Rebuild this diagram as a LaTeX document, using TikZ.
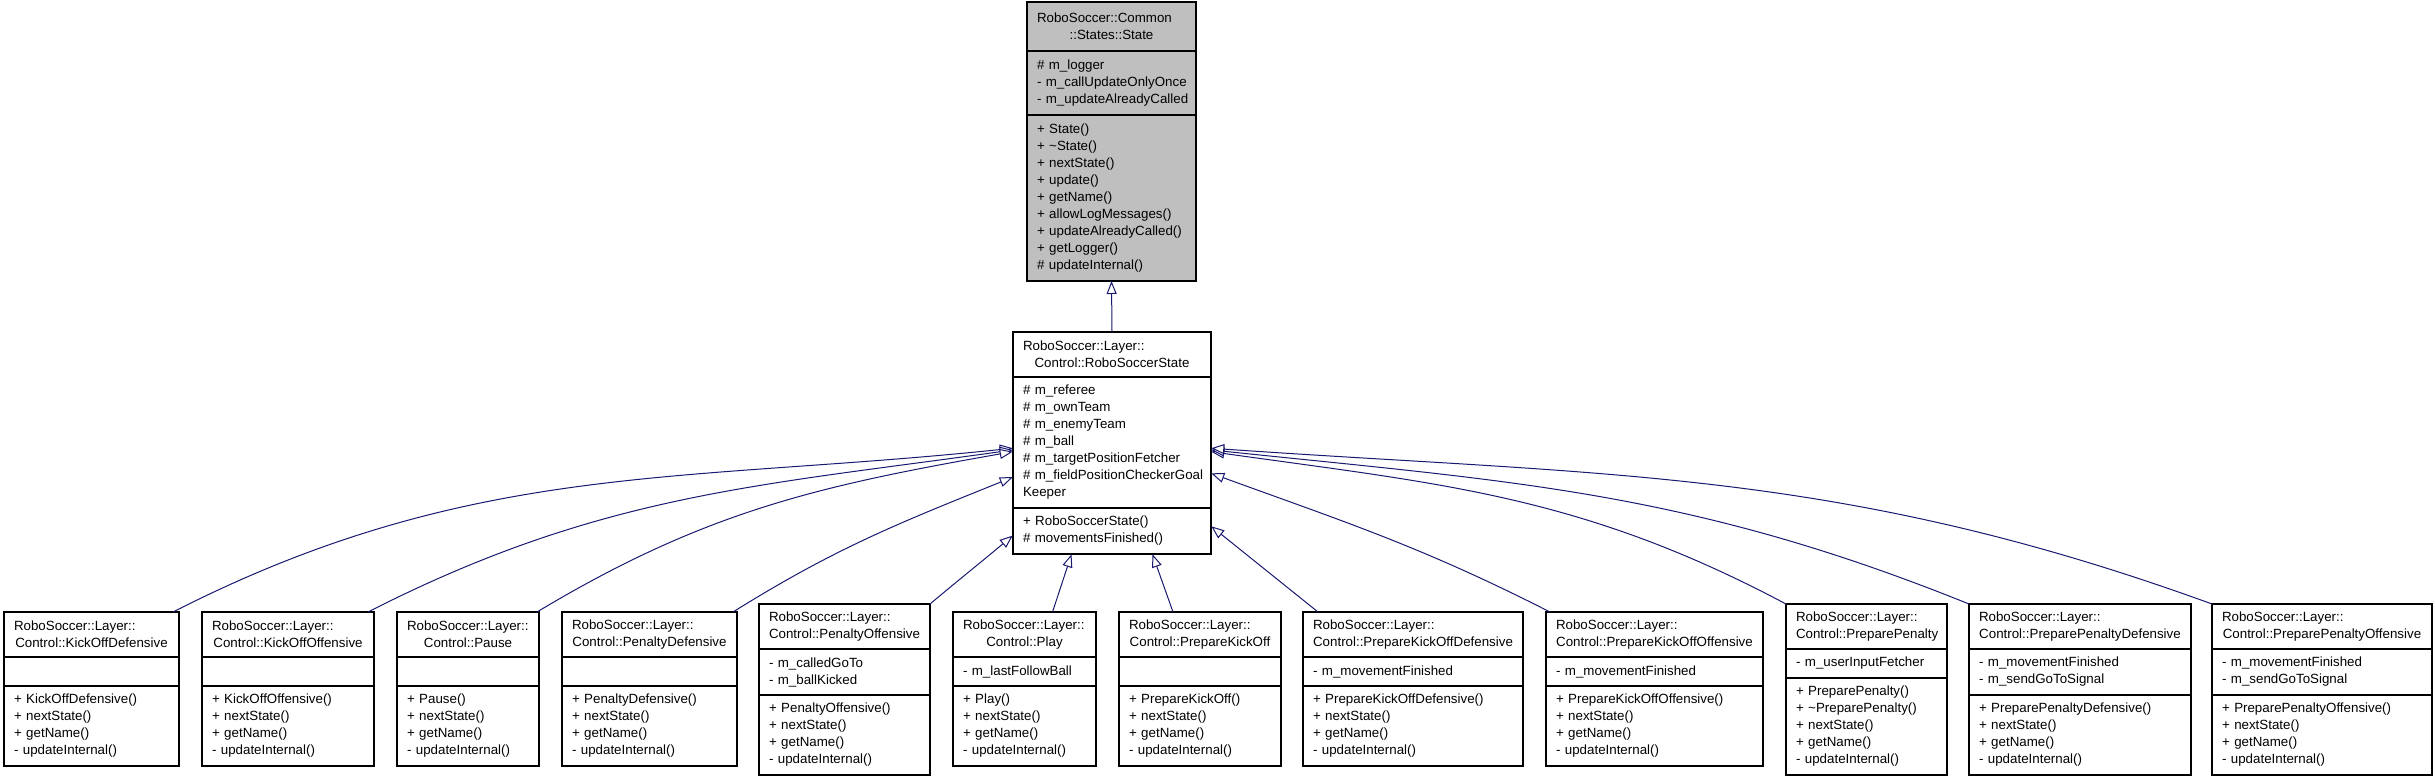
\documentclass[tikz,border=0pt]{standalone}
\usepackage{fontspec}
\setmainfont{Liberation Sans}
\usepackage{tikz}
\usetikzlibrary{positioning,arrows.meta,fit}
\newcommand{\px}{0.75pt}
\newcommand{\ctitle}[2]{\makebox[\linewidth][l]{#1}\\#2}
\definecolor{edgeblue}{RGB}{25,25,112}
\definecolor{basegray}{RGB}{191,191,191}
\hfuzz=20pt
\tikzset{
  classw/.code={\pgfmathsetlengthmacro\clsmw{#1*\px}\pgfmathsetlengthmacro\clstw{(#1-20)*\px}%
    \tikzset{minimum width/.expanded=\clsmw, text width/.expanded=\clstw}},
  classpart/.style={draw, line width=1pt, fill=white, inner xsep=7.5pt, inner ysep=1.5pt, outer sep=0pt},
  classhead/.style={classpart, align=center, minimum height=45*\px},
  classbody/.style={classpart, align=left, minimum height=#1*\px},
  basepart/.style={fill=basegray},
  inherit/.style={draw=edgeblue, line width=0.75pt, -{Triangle[length=9.75pt, width=7.5pt, fill=white]}}
}

\begin{document}
\begin{tikzpicture}[x=0.75pt, y=0.75pt, every node/.style={font=\fontsize{10}{12.75}\selectfont}]
  \useasboundingbox (0,0) rectangle (2435,-781);
  % base classes
  \node[classhead, basepart, classw=169, minimum height=49*\px, anchor=north west] (state) at (1027,-2) {\ctitle{RoboSoccer::Common}{::States::State}};
  \node[classbody=64, basepart, classw=169, below=0pt of state] (state-a) {\#~m\_logger\\\mbox{-~m\_callUpdateOnlyOnce}\\\mbox{-~m\_updateAlreadyCalled}};
  \node[classbody=166, basepart, classw=169, below=0pt of state-a] (state-m) {+~State()\\+~\textasciitilde State()\\+~nextState()\\+~update()\\+~getName()\\+~allowLogMessages()\\+~updateAlreadyCalled()\\+~getLogger()\\\#~updateInternal()};

  \node[classhead, classw=198, anchor=north west] (rss) at (1013,-332) {\ctitle{RoboSoccer::Layer::}{Control::RoboSoccerState}};
  \node[classbody=131, classw=198, below=0pt of rss] (rss-a) {\#~m\_referee\\\#~m\_ownTeam\\\#~m\_enemyTeam\\\#~m\_ball\\\#~m\_targetPositionFetcher\\\#~m\_fieldPositionCheckerGoal\\Keeper};
  \node[classbody=46, classw=198, below=0pt of rss-a] (rss-m) {+~RoboSoccerState()\\\#~movementsFinished()};
  \node[fit=(rss)(rss-m), inner sep=0pt] (rssbox) {};

  % derived states
  \node[classhead, classw=175, anchor=north west] (kod) at (4,-612) {\ctitle{RoboSoccer::Layer::}{Control::KickOffDefensive}};
  \node[classbody=29, classw=175, below=0pt of kod] (kod-a) {};
  \node[classbody=80, classw=175, below=0pt of kod-a] (kod-m) {+~KickOffDefensive()\\+~nextState()\\+~getName()\\-~updateInternal()};

  \node[classhead, classw=172, anchor=north west] (koo) at (202,-612) {\ctitle{RoboSoccer::Layer::}{Control::KickOffOffensive}};
  \node[classbody=29, classw=172, below=0pt of koo] (koo-a) {};
  \node[classbody=80, classw=172, below=0pt of koo-a] (koo-m) {+~KickOffOffensive()\\+~nextState()\\+~getName()\\-~updateInternal()};

  \node[classhead, classw=142, anchor=north west] (pause) at (397,-612) {\ctitle{RoboSoccer::Layer::}{Control::Pause}};
  \node[classbody=29, classw=142, below=0pt of pause] (pause-a) {};
  \node[classbody=80, classw=142, below=0pt of pause-a] (pause-m) {+~Pause()\\+~nextState()\\+~getName()\\-~updateInternal()};

  \node[classhead, classw=175, anchor=north west] (pendef) at (562,-612) {\ctitle{RoboSoccer::Layer::}{Control::PenaltyDefensive}};
  \node[classbody=29, classw=175, below=0pt of pendef] (pendef-a) {};
  \node[classbody=80, classw=175, below=0pt of pendef-a] (pendef-m) {+~PenaltyDefensive()\\+~nextState()\\+~getName()\\-~updateInternal()};

  \node[classhead, classw=171, anchor=north west] (penoff) at (759,-604) {\ctitle{RoboSoccer::Layer::}{Control::PenaltyOffensive}};
  \node[classbody=46, classw=171, below=0pt of penoff] (penoff-a) {-~m\_calledGoTo\\-~m\_ballKicked};
  \node[classbody=80, classw=171, below=0pt of penoff-a] (penoff-m) {+~PenaltyOffensive()\\+~nextState()\\+~getName()\\-~updateInternal()};

  \node[classhead, classw=143, anchor=north west] (play) at (953,-612) {\ctitle{RoboSoccer::Layer::}{Control::Play}};
  \node[classbody=29, classw=143, below=0pt of play] (play-a) {-~m\_lastFollowBall};
  \node[classbody=80, classw=143, below=0pt of play-a] (play-m) {+~Play()\\+~nextState()\\+~getName()\\-~updateInternal()};

  \node[classhead, classw=162, anchor=north west] (pko) at (1119,-612) {\ctitle{RoboSoccer::Layer::}{Control::PrepareKickOff}};
  \node[classbody=29, classw=162, below=0pt of pko] (pko-a) {};
  \node[classbody=80, classw=162, below=0pt of pko-a] (pko-m) {+~PrepareKickOff()\\+~nextState()\\+~getName()\\-~updateInternal()};

  \node[classhead, classw=220, anchor=north west] (pkodef) at (1303,-612) {\ctitle{RoboSoccer::Layer::}{Control::PrepareKickOffDefensive}};
  \node[classbody=29, classw=220, below=0pt of pkodef] (pkodef-a) {-~m\_movementFinished};
  \node[classbody=80, classw=220, below=0pt of pkodef-a] (pkodef-m) {+~PrepareKickOffDefensive()\\+~nextState()\\+~getName()\\-~updateInternal()};

  \node[classhead, classw=217, anchor=north west] (pkooff) at (1546,-612) {\ctitle{RoboSoccer::Layer::}{Control::PrepareKickOffOffensive}};
  \node[classbody=29, classw=217, below=0pt of pkooff] (pkooff-a) {-~m\_movementFinished};
  \node[classbody=80, classw=217, below=0pt of pkooff-a] (pkooff-m) {+~PrepareKickOffOffensive()\\+~nextState()\\+~getName()\\-~updateInternal()};

  \node[classhead, classw=161, anchor=north west] (preppen) at (1786,-604) {\ctitle{RoboSoccer::Layer::}{Control::PreparePenalty}};
  \node[classbody=29, classw=161, below=0pt of preppen] (preppen-a) {-~m\_userInputFetcher};
  \node[classbody=97, classw=161, below=0pt of preppen-a] (preppen-m) {+~PreparePenalty()\\+~\textasciitilde PreparePenalty()\\+~nextState()\\+~getName()\\-~updateInternal()};

  \node[classhead, classw=222, anchor=north west] (ppdef) at (1969,-604) {\ctitle{RoboSoccer::Layer::}{Control::PreparePenaltyDefensive}};
  \node[classbody=46, classw=222, below=0pt of ppdef] (ppdef-a) {-~m\_movementFinished\\-~m\_sendGoToSignal};
  \node[classbody=80, classw=222, below=0pt of ppdef-a] (ppdef-m) {+~PreparePenaltyDefensive()\\+~nextState()\\+~getName()\\-~updateInternal()};

  \node[classhead, classw=220, anchor=north west] (ppoff) at (2212,-604) {\ctitle{RoboSoccer::Layer::}{Control::PreparePenaltyOffensive}};
  \node[classbody=46, classw=220, below=0pt of ppoff] (ppoff-a) {-~m\_movementFinished\\-~m\_sendGoToSignal};
  \node[classbody=80, classw=220, below=0pt of ppoff-a] (ppoff-m) {+~PreparePenaltyOffensive()\\+~nextState()\\+~getName()\\-~updateInternal()};

  % inheritance
  \draw[inherit] (rss.north) -- (state-m.south);
  \draw[inherit] ([xshift=-6*\px]kod.north east) to[out=27, in=186] (rssbox.183);
  \draw[inherit] ([xshift=-6*\px]koo.north east) to[out=27, in=188] (rssbox.184);
  \draw[inherit] ([xshift=-2*\px]pause.north east) to[out=31, in=190] (rssbox.185);
  \draw[inherit] ([xshift=-4*\px]pendef.north east) to[out=32, in=202] (rssbox.199);
  \draw[inherit] (penoff.north east) to[out=40, in=220] (rssbox.223);
  \draw[inherit] ([xshift=28*\px]play.north) -- (rssbox.250);
  \draw[inherit] ([xshift=-27*\px]pko.north) -- (rssbox.290);
  \draw[inherit] ([xshift=15*\px]pkodef.north west) -- (rssbox.320);
  \draw[inherit] ([xshift=4*\px]pkooff.north west) to[out=153, in=340] (rssbox.343);
  \draw[inherit] (preppen.north west) to[out=152, in=352] (rssbox.355);
  \draw[inherit] (ppdef.north west) to[out=158, in=354] (rssbox.356);
  \draw[inherit] (ppoff.north west) to[out=160, in=356] (rssbox.357);
\end{tikzpicture}
\end{document}
